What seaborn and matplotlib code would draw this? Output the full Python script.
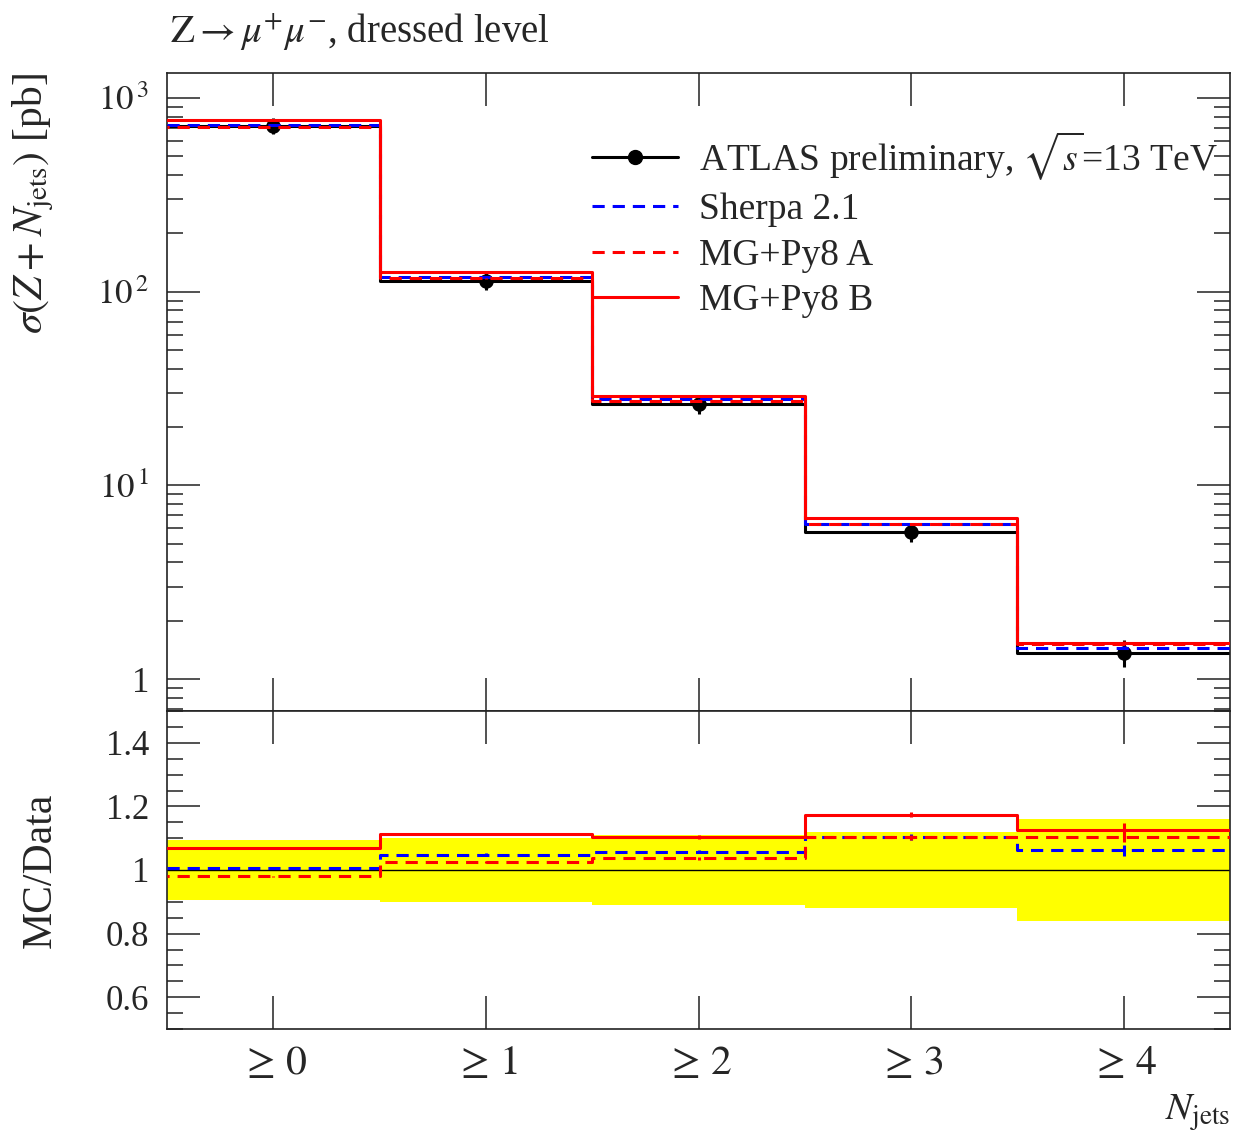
import numpy as np
import pandas as pd
import matplotlib
matplotlib.use("Agg")
import matplotlib.pyplot as plt
from matplotlib.lines import Line2D
from matplotlib.ticker import (FixedLocator, FixedFormatter, MultipleLocator,
                               LogLocator, NullFormatter)
import seaborn as sns

# Inclusive jet multiplicity bins
categories = [r"$\geq\, 0$", r"$\geq\, 1$", r"$\geq\, 2$", r"$\geq\, 3$", r"$\geq\, 4$"]

# Measured cross sections [pb] and relative total uncertainty
data_xsec = [720.0, 114.0, 26.3, 5.75, 1.37]
data_rel_unc = [0.093, 0.101, 0.110, 0.118, 0.161]

# Predictions expressed as MC / Data
sherpa_ratio = [1.007, 1.048, 1.058, 1.103, 1.062]
mg_a_ratio = [0.980, 1.026, 1.037, 1.103, 1.103]
mg_b_ratio = [1.069, 1.113, 1.104, 1.174, 1.126]

# Statistical uncertainty of the predictions (in ratio units)
sherpa_err = [0.002, 0.004, 0.006, 0.010, 0.018]
mg_a_err = [0.002, 0.003, 0.005, 0.008, 0.015]
mg_b_err = [0.002, 0.003, 0.005, 0.007, 0.022]

log_ticks = [1, 10, 100, 1000]
log_tick_labels = ["1", r"$10^{\,1}$", r"$10^{\,2}$", r"$10^{\,3}$"]
ratio_ticks = [0.6, 0.8, 1.0, 1.2, 1.4]
ratio_tick_labels = ["0.6", "0.8", "1", "1.2", "1.4"]

sns.set_theme(style="ticks")
plt.rcParams["font.family"] = ["Liberation Serif", "DejaVu Serif"]
plt.rcParams["mathtext.fontset"] = "stix"
plt.rcParams["axes.linewidth"] = 1.2
plt.rcParams["axes.edgecolor"] = "#222222"

n = len(categories)
centers = np.arange(n)
edges = np.arange(n + 1) - 0.5
data = np.array(data_xsec)
unc = np.array(data_rel_unc)

series = {
    "Sherpa 2.1": (np.array(sherpa_ratio), np.array(sherpa_err)),
    "MG+Py8 A": (np.array(mg_a_ratio), np.array(mg_a_err)),
    "MG+Py8 B": (np.array(mg_b_ratio), np.array(mg_b_err)),
}
styles = {
    "Sherpa 2.1": dict(color="#0000FF", linestyle=(0, (4, 2.6))),
    "MG+Py8 A": dict(color="#FF0000", linestyle=(3.3, (4, 2.6))),
    "MG+Py8 B": dict(color="#FF0000", linestyle="-"),
}
LW = 2.2


def step_frame(values):
    vals = list(values) + [values[-1]]
    return pd.DataFrame({"edge": edges, "value": vals})


fig = plt.figure(figsize=(12.36, 11.35), dpi=100)
ax = fig.add_axes([167 / 1236, 1 - 711 / 1135, 1063 / 1236, 638 / 1135])
axr = fig.add_axes([167 / 1236, 1 - 1029 / 1135, 1063 / 1236, 318 / 1135], sharex=ax)

# ---- main panel: cross sections ----
sns.lineplot(data=step_frame(data), x="edge", y="value", ax=ax, color="black",
             lw=LW, drawstyle="steps-post", estimator=None, zorder=2)
ax.errorbar(centers, data, yerr=data * unc, fmt="none", ecolor="black",
            elinewidth=LW, capsize=0, zorder=2)
sns.scatterplot(x=centers, y=data, ax=ax, color="black", s=110,
                edgecolor="black", linewidth=0, zorder=3)

for z, (name, (ratio, err)) in enumerate(series.items()):
    pred = ratio * data
    sns.lineplot(data=step_frame(pred), x="edge", y="value", ax=ax,
                 lw=LW, drawstyle="steps-post", estimator=None,
                 zorder=4 + z, **styles[name])
    ax.errorbar(centers, pred, yerr=err * data, fmt="none",
                ecolor=styles[name]["color"], elinewidth=LW, capsize=0,
                zorder=4 + z)

ax.set_yscale("log")
ax.set_ylim(0.684, 1346)
ax.set_xlim(-0.5, 4.5)
ax.yaxis.set_major_locator(FixedLocator(log_ticks))
ax.yaxis.set_major_formatter(FixedFormatter(log_tick_labels))
ax.yaxis.set_minor_locator(LogLocator(base=10, subs=np.arange(2, 10)))
ax.yaxis.set_minor_formatter(NullFormatter())
ax.set_ylabel(r"$\sigma(Z+N_{\mathrm{jets}})$ [pb]", fontsize=30, loc="top")
ax.yaxis.set_label_coords(-0.104, 1.0)
ax.set_xlabel("")

handles = [
    Line2D([], [], color="black", lw=LW, marker="o", ms=10),
    Line2D([], [], lw=LW, **styles["Sherpa 2.1"]),
    Line2D([], [], lw=LW, color="#FF0000", linestyle=(0, (4, 2.6))),
    Line2D([], [], lw=LW, **styles["MG+Py8 B"]),
]
labels = [r"ATLAS preliminary, $\sqrt{s}$=13 TeV", "Sherpa 2.1",
          "MG+Py8 A", "MG+Py8 B"]
ax.legend(handles, labels, loc="upper left", bbox_to_anchor=(0.4, 0.912),
          frameon=False, fontsize=27, handlelength=2.3, handletextpad=0.55,
          labelspacing=0.29, borderpad=0, borderaxespad=0, numpoints=1)

fig.text(170 / 1236, 1 - 42 / 1135,
         r"$\mathrm{Z} \rightarrow \mu^{+}\mu^{-}$, dressed level",
         fontsize=28, ha="left", va="baseline")

# ---- ratio panel ----
for i in range(n):
    axr.fill_between([edges[i], edges[i + 1]], 1 - unc[i], 1 + unc[i],
                     color="#FFFF00", lw=0, zorder=1)
sns.lineplot(data=step_frame(np.ones(n)), x="edge", y="value", ax=axr,
             color="black", lw=1.0, drawstyle="steps-post", estimator=None,
             zorder=2)
for z, (name, (ratio, err)) in enumerate(series.items()):
    sns.lineplot(data=step_frame(ratio), x="edge", y="value", ax=axr,
                 lw=LW, drawstyle="steps-post", estimator=None,
                 zorder=4 + z, **styles[name])
    axr.errorbar(centers, ratio, yerr=err, fmt="none",
                 ecolor=styles[name]["color"], elinewidth=LW, capsize=0,
                 zorder=4 + z)

axr.set_ylim(0.5, 1.5)
axr.yaxis.set_major_locator(FixedLocator(ratio_ticks))
axr.yaxis.set_major_formatter(FixedFormatter(ratio_tick_labels))
axr.yaxis.set_minor_locator(MultipleLocator(0.05))
axr.set_ylabel("MC/Data", fontsize=30)
axr.yaxis.set_label_coords(-0.101, 0.5)
axr.xaxis.set_major_locator(FixedLocator(centers))
axr.xaxis.set_major_formatter(FixedFormatter(categories))
axr.xaxis.set_minor_locator(FixedLocator([]))
axr.set_xlabel(r"$N_{\mathrm{jets}}$", fontsize=28, loc="right")
axr.xaxis.set_label_coords(1.0, -0.2)

for a in (ax, axr):
    a.tick_params(axis="both", which="both", direction="in", top=True,
                  right=True, width=1.1, color="#222222")
    a.tick_params(axis="both", which="major", length=24)
    a.tick_params(axis="both", which="minor", length=11.5)
    a.tick_params(axis="y", which="major", labelsize=25, pad=13)
ax.tick_params(axis="x", labelbottom=False)
axr.tick_params(axis="x", which="major", labelsize=30, pad=11)

fig.savefig("out.png", dpi=100)
